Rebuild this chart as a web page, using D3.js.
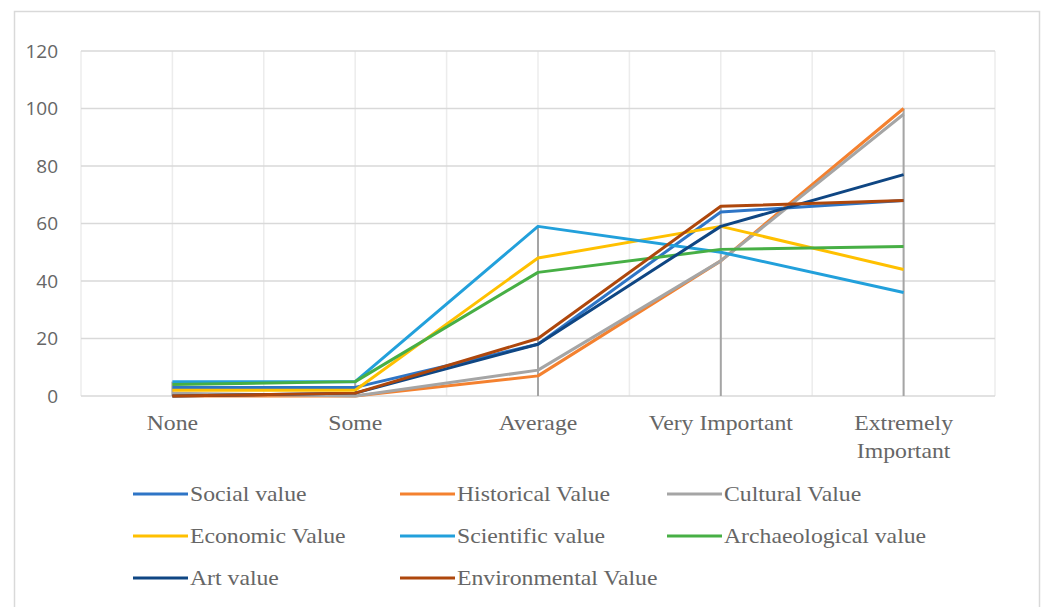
<!DOCTYPE html>
<html>
<head>
<meta charset="utf-8">
<script src="https://cdn.jsdelivr.net/npm/d3@7"></script>
<style>
  body { margin: 0; background: #fff; }
  svg { display: block; }
</style>
</head>
<body>
<svg id="chart" width="1044" height="607"></svg>
<script>
// categories on the x axis
var categories = ['None', 'Some', 'Average', 'Very Important', 'Extremely Important'];
var yTicks = [0, 20, 40, 60, 80, 100, 120];

// one array per series
var socialValue        = [3, 3, 18, 64, 68];
var historicalValue    = [0, 0, 7, 47, 100];
var culturalValue      = [1, 0, 9, 47, 98];
var economicValue      = [2, 2, 48, 59, 44];
var scientificValue    = [5, 5, 59, 50, 36];
var archaeologicalValue= [4, 5, 43, 51, 52];
var artValue           = [0, 1, 18, 59, 77];
var environmentalValue = [0, 1, 20, 66, 68];

var seriesNames = ['Social value', 'Historical Value', 'Cultural Value', 'Economic Value',
                   'Scientific value', 'Archaeological value', 'Art value', 'Environmental Value'];
var seriesColors = ['#2E75C6', '#F4812F', '#A5A5A5', '#FFC000',
                    '#22A0DB', '#47AF45', '#0F4683', '#AE470C'];

(function(){
  var series = [socialValue, historicalValue, culturalValue, economicValue,
                scientificValue, archaeologicalValue, artValue, environmentalValue]
    .map(function(v, i){ return {name: seriesNames[i], color: seriesColors[i], values: v}; });

  var svg = d3.select('#chart');
  var serif = '"Liberation Serif", "Times New Roman", serif';
  var stretch = 1.13; // reference serif text is a bit wider than Liberation

  // chart frame
  svg.append('rect')
    .attr('x', 14.5).attr('y', 11.5)
    .attr('width', 1025).attr('height', 620)
    .attr('fill', '#fff')
    .attr('stroke', '#d9d9d9').attr('stroke-width', 1.5);

  var pLeft = 81, pRight = 995, pTop = 51, pBottom = 396;

  var x = d3.scaleLinear().domain([-0.5, categories.length - 0.5]).range([pLeft, pRight]);
  var y = d3.scaleLinear().domain([0, 120]).range([pBottom, pTop]);

  // gridlines
  var grid = svg.append('g');
  grid.selectAll('.vg').data(d3.range(-0.5, categories.length, 0.5)).enter().append('line')
    .attr('x1', function(d){ return x(d); }).attr('x2', function(d){ return x(d); })
    .attr('y1', pTop).attr('y2', pBottom)
    .attr('stroke', '#ececec').attr('stroke-width', 1.5);
  grid.selectAll('.hg').data(yTicks).enter().append('line')
    .attr('x1', pLeft).attr('x2', pRight)
    .attr('y1', function(d){ return y(d); }).attr('y2', function(d){ return y(d); })
    .attr('stroke', '#d9d9d9').attr('stroke-width', 1.5);

  // y axis labels
  var yAxis = d3.axisLeft(y).tickValues(yTicks).tickSize(0).tickPadding(23);
  svg.append('g')
    .attr('transform', 'translate(' + pLeft + ',0)')
    .call(yAxis)
    .call(function(g){ g.select('.domain').remove(); })
    .selectAll('text')
    .attr('font-family', '"Open Sans", sans-serif')
    .attr('font-size', 19)
    .attr('fill', '#666');

  // x axis labels (wrapped)
  var xl = svg.append('g');
  categories.forEach(function(c, i){
    var words = c === 'Extremely Important' ? ['Extremely', 'Important'] : [c];
    var t = xl.append('text')
      .attr('transform', 'translate(' + x(i) + ',430) scale(' + stretch + ',1)')
      .attr('text-anchor', 'middle')
      .attr('font-family', serif)
      .attr('font-size', 21)
      .attr('fill', '#666');
    words.forEach(function(w, j){
      t.append('tspan').attr('x', 0).attr('dy', j === 0 ? 0 : 28).text(w);
    });
  });

  // drop lines from highest point of each category to the axis
  var maxes = categories.map(function(c, i){ return d3.max(series, function(s){ return s.values[i]; }); });
  svg.append('g').selectAll('line').data(maxes).enter().append('line')
    .attr('x1', function(d, i){ return x(i); }).attr('x2', function(d, i){ return x(i); })
    .attr('y1', function(d){ return y(d); }).attr('y2', pBottom)
    .attr('stroke', '#a5a5a5').attr('stroke-width', 2);

  // series lines
  var line = d3.line()
    .x(function(d, i){ return x(i); })
    .y(function(d){ return y(d); });

  svg.append('g').selectAll('path').data(series).enter().append('path')
    .attr('d', function(s){ return line(s.values); })
    .attr('fill', 'none')
    .attr('stroke', function(s){ return s.color; })
    .attr('stroke-width', 3)
    .attr('stroke-linejoin', 'round');

  // legend: 3 columns
  var legend = svg.append('g');
  series.forEach(function(s, i){
    var col = i % 3, row = Math.floor(i / 3);
    var lx = 133 + col * 267, ly = 494 + row * 42;
    legend.append('line')
      .attr('x1', lx).attr('x2', lx + 55)
      .attr('y1', ly).attr('y2', ly)
      .attr('stroke', s.color).attr('stroke-width', 3);
    legend.append('text')
      .attr('transform', 'translate(' + (lx + 57) + ',' + (ly + 7) + ') scale(' + stretch + ',1)')
      .attr('font-family', serif)
      .attr('font-size', 21)
      .attr('fill', '#666')
      .text(s.name);
  });
})();
</script>
</body>
</html>
